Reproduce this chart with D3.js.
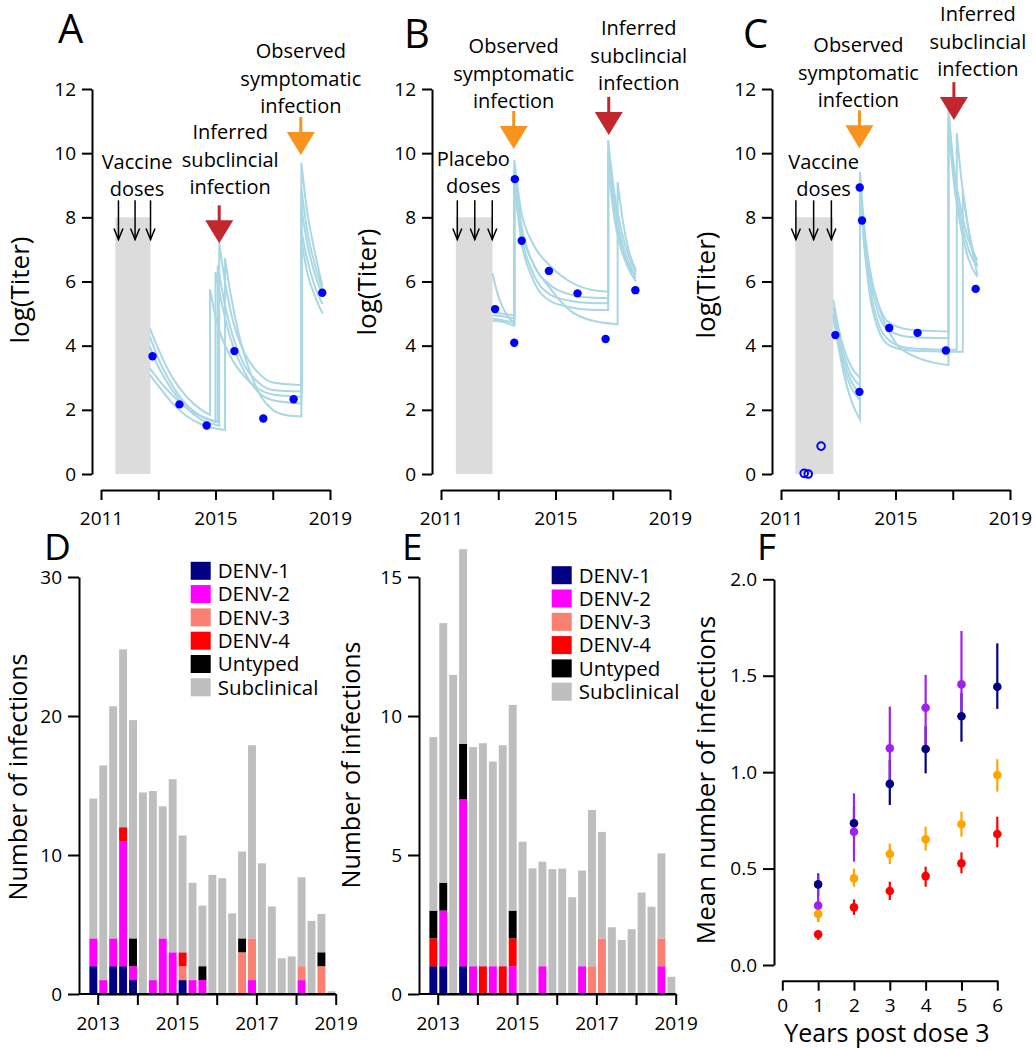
<!DOCTYPE html>
<meta charset="utf-8">
<style>
body { margin: 0; background: #fff; }
text { font-family: "Open Sans", sans-serif; fill: #000; }
.axis text { font-family: "Open Sans", sans-serif; font-size: 19px; }
.axis path, .axis line { stroke: #000; stroke-width: 2px; }
</style>
<svg width="1036" height="1050"></svg>
<script src="https://d3js.org/d3.v7.min.js"></script>
<script>
// ---------- panels A-C : antibody titer trajectories ----------
var dosesA = [2011.61, 2012.19, 2012.73],
    dosesB = [2011.57, 2012.18, 2012.79],
    dosesC = [2011.52, 2012.14, 2012.76];
var shadeA = [2011.50, 2012.73], shadeB = [2011.52, 2012.80], shadeC = [2011.50, 2012.83];

// [year, tip value] of the coloured arrows
var symptomA = [2017.98, 9.94], subclinA = [2015.13, 7.19];
var symptomB = [2013.54, 10.13], subclinB = [2016.86, 10.57];
var symptomC = [2013.74, 10.15], subclinC = [2017.04, 11.03];

var dotsA = [[2012.80,3.67],[2013.74,2.17],[2014.69,1.51],[2015.66,3.83],[2016.67,1.73],[2017.73,2.33],[2018.73,5.65]];
var dotsB = [[2012.89,5.14],[2013.56,4.09],[2013.58,9.19],[2013.82,7.27],[2014.77,6.33],[2015.77,5.63],[2016.75,4.21],[2017.79,5.73]];
var dotsC = [[2012.90,4.33],[2013.74,2.56],[2013.75,8.93],[2013.83,7.90],[2014.78,4.55],[2015.77,4.40],[2016.76,3.85],[2017.80,5.77]];
var openDotsC = [[2011.81,0.02],[2011.95,0.0],[2012.40,0.87]];

// each trajectory = list of segments (vertical jump between segments)
var trajA = [
  [[[2012.71,4.54],[2013.0,3.9],[2013.5,3.0],[2014.0,2.4],[2014.5,2.0],[2014.81,1.84]],
   [[2014.81,5.76],[2015.0,4.9],[2015.5,3.7],[2016.0,3.05],[2016.5,2.65],[2017.0,2.48],[2018.0,2.41]],
   [[2018.0,8.3],[2018.2,7.2],[2018.45,6.3],[2018.74,5.6]]],
  [[[2012.71,4.28],[2013.0,3.6],[2013.5,2.75],[2014.0,2.15],[2014.5,1.8],[2015.0,1.62]],
   [[2015.0,6.3],[2015.25,5.2],[2015.5,4.3],[2016.0,3.2],[2016.5,2.55],[2017.0,2.3],[2018.0,2.2]],
   [[2018.0,7.6],[2018.2,6.7],[2018.45,5.9],[2018.74,5.3]]],
  [[[2012.71,3.97],[2013.0,3.35],[2013.5,2.6],[2014.0,2.05],[2014.5,1.7],[2015.13,1.5]],
   [[2015.13,7.2],[2015.35,5.9],[2015.6,4.8],[2016.0,3.8],[2016.5,3.15],[2017.0,2.85],[2018.0,2.77]],
   [[2018.0,9.7],[2018.2,8.2],[2018.45,7.0],[2018.74,5.85]]],
  [[[2012.71,3.29],[2013.0,2.95],[2013.5,2.45],[2014.0,2.05],[2014.5,1.8],[2015.08,1.62]],
   [[2015.08,6.5],[2015.3,5.4],[2015.6,4.3],[2016.0,3.4],[2016.5,2.85],[2017.0,2.62],[2018.0,2.57]],
   [[2018.0,8.9],[2018.2,7.6],[2018.45,6.6],[2018.74,5.75]]],
  [[[2012.71,3.09],[2013.0,2.75],[2013.5,2.2],[2014.0,1.8],[2014.5,1.55],[2015.33,1.37]],
   [[2015.33,6.73],[2015.55,5.5],[2015.8,4.4],[2016.2,3.2],[2016.6,2.4],[2017.0,2.0],[2017.5,1.83],[2018.0,1.79]],
   [[2018.0,7.3],[2018.2,6.3],[2018.45,5.6],[2018.74,5.0]]]
];
var trajB = [
  [[[2012.80,6.26],[2012.95,5.7],[2013.15,5.2],[2013.35,4.9],[2013.56,4.7]],
   [[2013.56,9.79],[2013.8,8.2],[2014.2,7.2],[2014.8,6.5],[2015.5,6.0],[2016.2,5.75],[2016.84,5.68]],
   [[2016.84,10.41],[2017.05,8.8],[2017.3,7.6],[2017.55,6.8],[2017.81,6.3]]],
  [[[2012.80,5.05],[2013.1,5.0],[2013.56,4.95]],
   [[2013.56,9.5],[2013.8,7.8],[2014.2,6.6],[2014.8,5.9],[2015.5,5.6],[2016.2,5.5],[2016.84,5.48]],
   [[2016.84,10.1],[2017.05,8.5],[2017.3,7.3],[2017.55,6.6],[2017.81,6.2]]],
  [[[2012.80,4.95],[2013.1,4.92],[2013.56,4.85]],
   [[2013.56,9.3],[2013.8,7.5],[2014.2,6.3],[2014.8,5.6],[2015.5,5.4],[2016.2,5.33],[2016.84,5.32]],
   [[2016.84,9.9],[2017.05,8.2],[2017.3,7.1],[2017.55,6.5],[2017.81,6.1]]],
  [[[2012.80,4.85],[2013.1,4.8],[2013.56,4.72]],
   [[2013.56,9.1],[2013.8,7.3],[2014.2,6.1],[2014.8,5.4],[2015.5,5.2],[2016.2,5.12],[2016.84,5.11]],
   [[2016.84,9.7],[2017.05,8.0],[2017.3,7.0],[2017.55,6.4],[2017.81,6.0]]],
  [[[2012.80,4.78],[2013.1,4.75],[2013.56,4.62]],
   [[2013.56,8.9],[2013.8,7.6],[2014.2,6.6],[2014.8,5.8],[2015.5,5.1],[2016.2,4.8],[2017.17,4.67]],
   [[2017.17,9.11],[2017.35,7.9],[2017.55,7.0],[2017.81,6.35]]]
];
var trajC = [
  [[[2012.83,5.42],[2013.0,4.6],[2013.2,3.9],[2013.45,3.35],[2013.76,3.0]],
   [[2013.76,9.42],[2013.9,7.8],[2014.1,6.4],[2014.4,5.3],[2014.8,4.7],[2015.5,4.5],[2016.85,4.44]],
   [[2016.85,11.35],[2017.05,9.5],[2017.3,8.2],[2017.55,7.3],[2017.86,6.67]]],
  [[[2012.83,5.2],[2013.0,4.4],[2013.2,3.7],[2013.45,3.1],[2013.76,2.75]],
   [[2013.76,9.2],[2013.9,7.5],[2014.1,6.1],[2014.4,5.0],[2014.8,4.45],[2015.5,4.27],[2016.85,4.23]],
   [[2016.85,11.1],[2017.05,9.2],[2017.3,7.9],[2017.55,7.0],[2017.86,6.45]]],
  [[[2012.83,5.0],[2013.0,4.25],[2013.2,3.5],[2013.45,2.9],[2013.76,2.5]],
   [[2013.76,9.0],[2013.9,7.3],[2014.1,5.8],[2014.4,4.7],[2014.8,4.15],[2015.5,3.92],[2017.14,3.87]],
   [[2017.14,10.62],[2017.3,9.2],[2017.5,7.9],[2017.7,7.0],[2017.86,6.5]]],
  [[[2012.83,4.95],[2013.0,4.1],[2013.2,3.3],[2013.45,2.7],[2013.76,2.3]],
   [[2013.76,8.8],[2013.9,7.2],[2014.1,5.6],[2014.4,4.5],[2014.8,4.0],[2015.5,3.85],[2017.35,3.81]],
   [[2017.35,8.8],[2017.55,7.6],[2017.86,6.2]]],
  [[[2012.83,4.9],[2013.0,4.0],[2013.2,3.1],[2013.45,2.3],[2013.76,1.7]],
   [[2013.76,8.6],[2013.9,7.4],[2014.1,6.3],[2014.5,5.0],[2015.0,4.1],[2015.7,3.65],[2016.3,3.48],[2016.85,3.4]],
   [[2016.85,10.9],[2017.05,9.0],[2017.3,7.6],[2017.55,6.7],[2017.86,6.14]]]
];

// ---------- panels D-E : quarterly infections ----------
var serotypes = ["DENV-1", "DENV-2", "DENV-3", "DENV-4", "Untyped", "Subclinical"];
var serotypeColors = ["#000080", "#ff00ff", "#fa8072", "#ff0000", "#000000", "#bebebe"];
var quarterStart = [2012.75, 2013.0, 2013.25, 2013.5, 2013.75, 2014.0, 2014.25, 2014.5, 2014.75,
  2015.0, 2015.25, 2015.5, 2015.75, 2016.0, 2016.25, 2016.5, 2016.75, 2017.0, 2017.25, 2017.5,
  2017.75, 2018.0, 2018.25, 2018.5, 2018.75];

var denv1D    = [2,0,2,2,1,0,0,0,0,1,0,0,0,0,0,0,0,0,0,0,0,0,0,0,0];
var denv2D    = [2,1,2,9,1,0,1,4,3,0,1,1,0,0,0,0,1,0,0,0,0,1,0,0,0];
var denv3D    = [0,0,0,0,0,0,0,0,0,1,0,0,0,0,0,3,3,0,0,0,0,1,0,2,0];
var denv4D    = [0,0,0,1,0,0,0,0,0,1,0,0,0,0,0,0,0,0,0,0,0,0,0,0,0];
var untypedD  = [0,0,0,0,2,0,0,0,0,0,0,1,0,0,0,1,0,0,0,0,0,0,0,1,0];
var subclinD  = [10.06,15.44,16.7,12.8,15.7,14.5,13.6,9.5,12.45,8.4,7.0,4.36,8.57,8.33,5.8,6.25,13.9,9.4,6.3,2.57,2.7,6.4,5.26,2.76,0.2];

var denv1E    = [1,1,0,1,0,0,0,0,0,0,0,0,0,0,0,0,0,0,0,0,0,0,0,0,0];
var denv2E    = [0,2,0,6,1,0,1,0,1,0,0,1,0,0,0,1,0,0,0,0,0,0,0,1,0];
var denv3E    = [0,0,0,0,0,0,0,0,0,0,0,0,0,0,0,0,1,2,0,0,0,0,0,1,0];
var denv4E    = [1,0,0,0,0,1,0,1,1,0,0,0,0,0,0,0,0,0,0,0,0,0,0,0,0];
var untypedE  = [1,1,0,2,0,0,0,0,1,0,0,0,0,0,0,0,0,0,0,0,0,0,0,0,0];
var subclinE  = [6.24,9.34,11.48,7.0,7.88,8.02,7.36,7.95,7.4,5.48,4.52,3.76,4.49,4.51,3.48,3.44,5.62,3.83,2.4,1.94,2.33,3.65,3.14,3.06,0.62];

// ---------- panel F : mean number of infections ----------
var yearsPost = [1, 2, 3, 4, 5, 6];
var navyMean   = [0.418, 0.735, 0.939, 1.12, 1.29, 1.443],
    navyLo     = [0.36, 0.66, 0.83, 0.994, 1.158, 1.328],
    navyHi     = [0.475, 0.82, 1.063, 1.236, 1.409, 1.668];
var purpleMean = [0.308, 0.691, 1.124, 1.334, 1.455],
    purpleLo   = [0.225, 0.536, 0.95, 1.13, 1.29],
    purpleHi   = [0.47, 0.89, 1.34, 1.504, 1.732];
var orangeMean = [0.265, 0.449, 0.576, 0.652, 0.73, 0.985],
    orangeLo   = [0.225, 0.406, 0.524, 0.593, 0.665, 0.899],
    orangeHi   = [0.30, 0.50, 0.63, 0.717, 0.795, 1.067];
var redMean    = [0.159, 0.299, 0.384, 0.461, 0.527, 0.679],
    redLo      = [0.13, 0.26, 0.337, 0.406, 0.475, 0.61],
    redHi      = [0.18, 0.34, 0.432, 0.51, 0.584, 0.769];

var svg = d3.select("svg");
svg.append("rect").attr("width", 1036).attr("height", 1050).attr("fill", "#fff");

var lightblue = "#a9d7e4", dotBlue = "#0000ff", arrowRed = "#c1272d", arrowOrange = "#f7931e";

function multiline(g, lines, cx, lastBaseline, size) {
  var t = g.append("text").attr("text-anchor", "middle").style("font-size", size + "px");
  lines.forEach(function(s, i) {
    t.append("tspan").attr("x", cx).attr("y", lastBaseline - (lines.length - 1 - i) * 27.3).text(s);
  });
}

function titerPanel(cfg) {
  var g = svg.append("g");
  var x = d3.scaleLinear().domain([2011, 2019]).range([cfg.ox + 101, cfg.ox + 330]);
  var y = d3.scaleLinear().domain([0, 12]).range([474, 89]);

  // axes
  g.append("g").attr("class", "axis")
      .attr("transform", "translate(" + (cfg.ox + 92) + ",0)")
      .call(d3.axisLeft(y).tickValues([0, 2, 4, 6, 8, 10, 12]).tickSize(10).tickSizeOuter(0).tickPadding(6));
  g.append("g").attr("class", "axis")
      .attr("transform", "translate(0,490)")
      .call(d3.axisBottom(x).tickValues([2011, 2013, 2015, 2017, 2019]).tickSize(10).tickSizeOuter(0).tickPadding(12)
        .tickFormat(function(d) { return (d - 2011) % 4 === 0 ? d : ""; }));
  g.selectAll(".axis .domain").attr("stroke-width", 2.5);

  // shaded dosing period
  g.append("rect")
      .attr("x", x(cfg.shade[0])).attr("width", x(cfg.shade[1]) - x(cfg.shade[0]))
      .attr("y", y(8)).attr("height", y(0) - y(8))
      .attr("fill", "#dcdcdc");

  // trajectories
  var line = d3.line().x(function(d) { return x(d[0]); }).y(function(d) { return y(d[1]); })
      .curve(d3.curveMonotoneX);
  g.append("g").selectAll("path")
    .data(cfg.traj)
    .enter().append("path")
      .attr("d", function(segs) {
        return segs.map(function(s, i) { var p = line(s); return i === 0 ? p : "L" + p.slice(1); }).join("");
      })
      .attr("fill", "none")
      .attr("stroke", lightblue)
      .attr("stroke-width", 2);

  // dose arrows
  cfg.doses.forEach(function(d) {
    var px = x(d), top = y(8.53), tip = y(7.31);
    g.append("line").attr("x1", px).attr("x2", px).attr("y1", top).attr("y2", tip)
        .attr("stroke", "#000").attr("stroke-width", 1.5);
    g.append("path").attr("d", "M" + (px - 4.5) + "," + (tip - 11) + "L" + px + "," + tip + "L" + (px + 4.5) + "," + (tip - 11))
        .attr("fill", "none").attr("stroke", "#000").attr("stroke-width", 1.5);
  });
  multiline(g, cfg.doseText, x(cfg.doses[1]) + cfg.doseDx, cfg.doseBase, 20);

  // infection arrows
  [[cfg.symptom, arrowOrange, ["Observed", "symptomatic", "infection"], cfg.symDx, cfg.symBase],
   [cfg.subclin, arrowRed, ["Inferred", "subclincial", "infection"], cfg.subDx, cfg.subBase]].forEach(function(a) {
    var px = x(a[0][0]), tip = y(a[0][1]);
    g.append("line").attr("x1", px).attr("x2", px).attr("y1", tip - 38).attr("y2", tip - 22)
        .attr("stroke", a[1]).attr("stroke-width", 3);
    g.append("path").attr("d", "M" + (px - 14) + "," + (tip - 23) + "L" + (px + 14) + "," + (tip - 23) + "L" + px + "," + tip + "Z")
        .attr("fill", a[1]);
    multiline(g, a[2], px + a[3], a[4], 20);
  });

  // observed titers
  g.append("g").selectAll("circle")
    .data(cfg.dots)
    .enter().append("circle")
      .attr("cx", function(d) { return x(d[0]); })
      .attr("cy", function(d) { return y(d[1]); })
      .attr("r", 4.2)
      .attr("fill", dotBlue);
  g.append("g").selectAll("circle")
    .data(cfg.openDots || [])
    .enter().append("circle")
      .attr("cx", function(d) { return x(d[0]); })
      .attr("cy", function(d) { return y(d[1]); })
      .attr("r", 3.8)
      .attr("fill", "none")
      .attr("stroke", dotBlue)
      .attr("stroke-width", 2);

  g.append("text").attr("transform", "translate(" + cfg.ylabX + "," + cfg.ylabY + ") rotate(-90)")
      .attr("text-anchor", "middle").attr("dy", "0.35em").style("font-size", "26px").text("log(Titer)");
  g.append("text").attr("x", cfg.letterX).attr("y", cfg.letterY).style("font-size", "40px").text(cfg.letter);
}

titerPanel({ox: 0, traj: trajA, dots: dotsA, doses: dosesA, shade: shadeA, symptom: symptomA, subclin: subclinA,
  doseText: ["Vaccine", "doses"], doseDx: 2, doseBase: 196, symDx: 0, symBase: 113, subDx: 11, subBase: 194,
  ylabX: 20, ylabY: 290, letter: "A", letterX: 58, letterY: 43});
titerPanel({ox: 340, traj: trajB, dots: dotsB, doses: dosesB, shade: shadeB, symptom: symptomB, subclin: subclinB,
  doseText: ["Placebo", "doses"], doseDx: -1.5, doseBase: 193, symDx: 0, symBase: 108, subDx: 30, subBase: 90,
  ylabX: 367, ylabY: 282, letter: "B", letterX: 404, letterY: 48});
titerPanel({ox: 680, traj: trajC, dots: dotsC, openDots: openDotsC, doses: dosesC, shade: shadeC, symptom: symptomC, subclin: subclinC,
  doseText: ["Vaccine", "doses"], doseDx: 10, doseBase: 196, symDx: -1, symBase: 107, subDx: 24, subBase: 76,
  ylabX: 706, ylabY: 285, letter: "C", letterX: 743, letterY: 48});

// ---------- stacked bars ----------
function barPanel(cfg) {
  var g = svg.append("g");
  var x = d3.scaleLinear().domain([2013, 2019]).range([cfg.ox + 97.7, cfg.ox + 335.7]);
  var y = d3.scaleLinear().domain([0, cfg.ymax]).range([994, 577]);

  var rows = quarterStart.map(function(q, i) {
    var r = {q: q};
    cfg.series.forEach(function(s, j) { r[serotypes[j]] = s[i]; });
    return r;
  });
  var stack = d3.stack().keys(serotypes)(rows);

  g.append("g").selectAll("g")
    .data(stack)
    .enter().append("g")
      .attr("fill", function(d, i) { return serotypeColors[i]; })
    .selectAll("rect")
    .data(function(d) { return d; })
    .enter().append("rect")
      .attr("x", function(d) { return x(d.data.q + 0.04); })
      .attr("width", function(d) { return x(d.data.q + 0.24) - x(d.data.q + 0.04); })
      .attr("y", function(d) { return y(d[1]); })
      .attr("height", function(d) { return y(d[0]) - y(d[1]); });

  g.append("g").attr("class", "axis")
      .attr("transform", "translate(" + (cfg.ox + 79) + ",0)")
      .call(d3.axisLeft(y).tickValues(cfg.yticks).tickSize(11).tickSizeOuter(0).tickPadding(6));
  g.append("line").attr("x1", cfg.ox + 79).attr("x2", x(2019)).attr("y1", 994).attr("y2", 994)
      .attr("stroke", "#000").attr("stroke-width", 2);
  g.append("g").attr("class", "axis")
      .attr("transform", "translate(0,994)")
      .call(d3.axisBottom(x).tickValues([2013, 2014, 2015, 2016, 2017, 2018, 2019]).tickSize(11).tickSizeOuter(0).tickPadding(12)
        .tickFormat(function(d) { return (d - 2013) % 2 === 0 ? d : ""; }));

  // legend
  var lg = g.append("g");
  serotypes.forEach(function(s, i) {
    var cy = cfg.legY + i * 23.3;
    lg.append("rect").attr("x", cfg.legX).attr("y", cy - 9).attr("width", 20).attr("height", 18)
        .attr("fill", serotypeColors[i]);
    lg.append("text").attr("x", cfg.legX + 27).attr("y", cy).attr("dy", "0.36em")
        .style("font-size", "20.5px").text(s);
  });

  g.append("text").attr("transform", "translate(" + cfg.ylabX + "," + cfg.ylabY + ") rotate(-90)")
      .attr("text-anchor", "middle").style("font-size", "25px").text("Number of infections");
  g.append("text").attr("x", cfg.letterX).attr("y", 560).style("font-size", "37px").text(cfg.letter);
}

barPanel({ox: 0, ymax: 30, yticks: [0, 10, 20, 30],
  series: [denv1D, denv2D, denv3D, denv4D, untypedD, subclinD],
  legX: 190.7, legY: 570.8, ylabX: 27, ylabY: 777, letter: "D", letterX: 44});
barPanel({ox: 340, ymax: 15, yticks: [0, 5, 10, 15],
  series: [denv1E, denv2E, denv3E, denv4E, untypedE, subclinE],
  legX: 551.7, legY: 575.2, ylabX: 360, ylabY: 765, letter: "E", letterX: 402});

// ---------- panel F ----------
(function() {
  var g = svg.append("g");
  var x = d3.scaleLinear().domain([0, 6]).range([782.3, 997.3]);
  var y = d3.scaleLinear().domain([0, 2]).range([965, 579.3]);

  g.append("g").attr("class", "axis")
      .attr("transform", "translate(774,0)")
      .call(d3.axisLeft(y).tickValues([0, 0.5, 1, 1.5, 2]).tickSize(11).tickSizeOuter(0).tickPadding(6)
        .tickFormat(d3.format(".1f")));
  g.append("g").attr("class", "axis")
      .attr("transform", "translate(0,980.7)")
      .call(d3.axisBottom(x).tickValues([0, 1, 2, 3, 4, 5, 6]).tickSize(10).tickSizeOuter(0).tickPadding(8)
        .tickFormat(d3.format("d")));

  var groups = [
    {color: "#000080", mean: navyMean, lo: navyLo, hi: navyHi},
    {color: "#a020f0", mean: purpleMean, lo: purpleLo, hi: purpleHi},
    {color: "#ffa500", mean: orangeMean, lo: orangeLo, hi: orangeHi},
    {color: "#ff0000", mean: redMean, lo: redLo, hi: redHi}
  ];
  groups.forEach(function(s) {
    g.append("g").selectAll("line")
      .data(s.mean)
      .enter().append("line")
        .attr("x1", function(d, i) { return x(yearsPost[i]); })
        .attr("x2", function(d, i) { return x(yearsPost[i]); })
        .attr("y1", function(d, i) { return y(s.lo[i]); })
        .attr("y2", function(d, i) { return y(s.hi[i]); })
        .attr("stroke", s.color)
        .attr("stroke-width", 2.2);
  });
  groups.forEach(function(s) {
    g.append("g").selectAll("circle")
      .data(s.mean)
      .enter().append("circle")
        .attr("cx", function(d, i) { return x(yearsPost[i]); })
        .attr("cy", function(d) { return y(d); })
        .attr("r", 4.3)
        .attr("fill", s.color);
  });

  g.append("text").attr("transform", "translate(706,780) rotate(-90)")
      .attr("text-anchor", "middle").attr("dy", "0.35em").style("font-size", "26px").text("Mean number of infections");
  g.append("text").attr("x", 887).attr("y", 1033).attr("text-anchor", "middle").attr("dy", "0.35em")
      .style("font-size", "25px").text("Years post dose 3");
  g.append("text").attr("x", 757).attr("y", 560).style("font-size", "37px").text("F");
})();
</script>
